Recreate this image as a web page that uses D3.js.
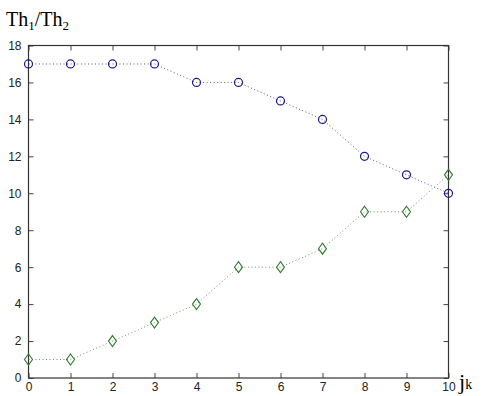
<!DOCTYPE html>
<html>
<head>
<meta charset="utf-8">
<script src="https://cdn.jsdelivr.net/npm/d3@7"></script>
<style>
  body { margin: 0; background: #fff; }
  svg { display: block; }
  .tick text { font-family: Arial, "Liberation Sans", sans-serif; font-size: 12px; fill: #222; }
</style>
</head>
<body>
<svg id="chart" width="483" height="396"></svg>
<script>
// values
const jk = [0, 1, 2, 3, 4, 5, 6, 7, 8, 9, 10]
const th1 = [17, 17, 17, 17, 16, 16, 15, 14, 12, 11, 10]
const th2 = [1, 1, 2, 3, 4, 6, 6, 7, 9, 9, 11]
const xTicks = [0, 1, 2, 3, 4, 5, 6, 7, 8, 9, 10]
const yTicks = [0, 2, 4, 6, 8, 10, 12, 14, 16, 18]

const box = { left: 28.5, right: 448.5, top: 45.5, bottom: 378 }
const blue = '#1a1a8c'
const green = '#2e7a2e'

const svg = d3.select('#chart')

const x = d3.scaleLinear().domain([0, 10]).range([box.left, box.right])
const y = d3.scaleLinear().domain([0, 18]).range([box.bottom, box.top])

// matlab style: ticks inside, on all four sides
const tickLen = 5
svg.append('g')
  .attr('transform', 'translate(0,' + box.bottom + ')')
  .call(d3.axisBottom(x).tickValues(xTicks).tickSize(-tickLen).tickPadding(4.5).tickFormat(d3.format('d')))
  .call(g => g.select('.domain').remove())
svg.append('g')
  .attr('transform', 'translate(' + box.left + ',0)')
  .call(d3.axisLeft(y).tickValues(yTicks).tickSize(-tickLen).tickPadding(7).tickFormat(d3.format('d')))
  .call(g => g.select('.domain').remove())
svg.append('g')
  .attr('transform', 'translate(0,' + box.top + ')')
  .call(d3.axisTop(x).tickValues(xTicks).tickSize(-tickLen).tickFormat(''))
  .call(g => g.select('.domain').remove())
svg.append('g')
  .attr('transform', 'translate(' + box.right + ',0)')
  .call(d3.axisRight(y).tickValues(yTicks).tickSize(-tickLen).tickFormat(''))
  .call(g => g.select('.domain').remove())
svg.selectAll('.tick line').attr('stroke', '#444')

svg.append('rect')
  .attr('x', box.left).attr('y', box.top)
  .attr('width', box.right - box.left).attr('height', box.bottom - box.top)
  .attr('fill', 'none').attr('stroke', '#333').attr('stroke-width', 1.2)

const line = vals => d3.line().x((d, i) => x(jk[i])).y(d => y(d))(vals)

svg.append('path').attr('d', line(th1))
  .attr('fill', 'none').attr('stroke', blue).attr('stroke-width', 1)
  .attr('stroke-dasharray', '1,2.5').attr('stroke-opacity', 0.75)
svg.append('path').attr('d', line(th2))
  .attr('fill', 'none').attr('stroke', green).attr('stroke-width', 1)
  .attr('stroke-dasharray', '1,2.5').attr('stroke-opacity', 0.75)

svg.append('g').selectAll('circle')
  .data(th1)
  .join('circle')
    .attr('cx', (d, i) => x(jk[i]))
    .attr('cy', d => y(d))
    .attr('r', 4)
    .attr('fill', 'none')
    .attr('stroke', blue)
    .attr('stroke-width', 1.2)

svg.append('g').selectAll('path')
  .data(th2)
  .join('path')
    .attr('d', (d, i) => {
      const cx = x(jk[i]), cy = y(d)
      return 'M' + cx + ',' + (cy - 5.5) + 'L' + (cx + 4) + ',' + cy + 'L' + cx + ',' + (cy + 5.5) + 'L' + (cx - 4) + ',' + cy + 'Z'
    })
    .attr('fill', 'none')
    .attr('stroke', green)
    .attr('stroke-width', 1.1)

// axis titles
const title = svg.append('text')
  .attr('x', 6).attr('y', 26)
  .attr('font-family', '"Liberation Serif", "Times New Roman", serif')
  .attr('font-size', 20).attr('fill', '#000')
title.append('tspan').text('Th')
title.append('tspan').attr('font-size', 13).attr('dy', 4).text('1')
title.append('tspan').attr('dy', -4).text('/Th')
title.append('tspan').attr('font-size', 13).attr('dy', 4).text('2')

const xl = svg.append('text')
  .attr('x', 459).attr('y', 389)
  .attr('font-family', '"Liberation Serif", "Times New Roman", serif')
  .attr('font-size', 22).attr('fill', '#000')
xl.append('tspan').text('j')
xl.append('tspan').attr('font-size', 14).text('k')
</script>
</body>
</html>
